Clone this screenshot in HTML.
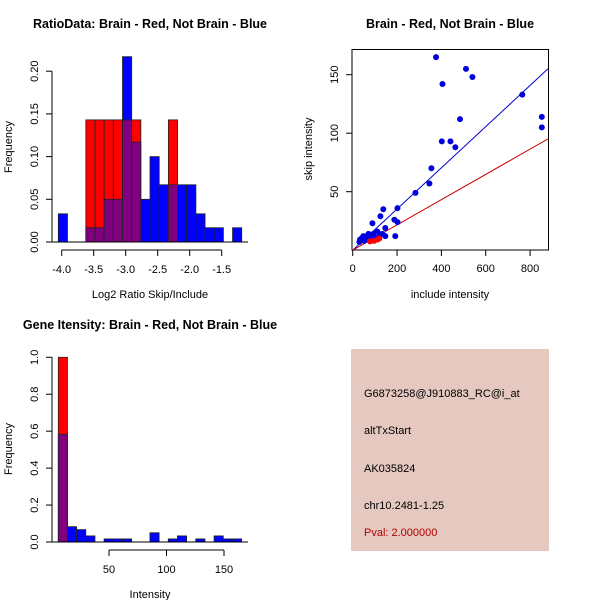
<!DOCTYPE html>
<html><head><meta charset="utf-8"><style>
body{margin:0;background:#fff}
svg{display:block;font-family:"Liberation Sans",sans-serif}
</style></head><body>
<svg id="c" width="600" height="600" viewBox="0 0 600 600" xmlns="http://www.w3.org/2000/svg">
<text x="150" y="28" text-anchor="middle" font-size="12.5" font-weight="bold">RatioData: Brain - Red, Not Brain - Blue</text>
<text x="450" y="28" text-anchor="middle" font-size="12.5" font-weight="bold">Brain - Red, Not Brain - Blue</text>
<text x="150" y="329" text-anchor="middle" font-size="12.5" font-weight="bold">Gene Itensity: Brain - Red, Not Brain - Blue</text>
<text x="150" y="298" text-anchor="middle" font-size="11">Log2 Ratio Skip/Include</text>
<text transform="translate(12,147) rotate(-90)" text-anchor="middle" font-size="11">Frequency</text>
<text x="450" y="298" text-anchor="middle" font-size="11">include intensity</text>
<text transform="translate(312,149) rotate(-90)" text-anchor="middle" font-size="11">skip intensity</text>
<text x="150" y="598" text-anchor="middle" font-size="11">Intensity</text>
<text transform="translate(12,449) rotate(-90)" text-anchor="middle" font-size="11">Frequency</text>
<g id="g1"></g><g id="g2"></g><g id="g3"></g>
<rect x="351" y="349" width="198" height="202" fill="#e5c8c0"/>
<g font-size="11">
<text x="364" y="397">G6873258@J910883_RC@i_at</text>
<text x="364" y="434">altTxStart</text>
<text x="364" y="472">AK035824</text>
<text x="364" y="509">chr10.2481-1.25</text>
<text x="364" y="536" fill="#b00000">Pval: 2.000000</text>
</g>
</svg>
<script>
// Plot 1 data
const ratioBinStart = -4.053, ratioBinWidth = 0.1433;
const ratioBlue = [0.033,0,0,0.0167,0.0167,0.05,0.05,0.217,0.117,0.05,0.1,0.067,0.067,0.067,0.067,0.033,0.0167,0.0167,0,0.0167];
const ratioRed  = [0,0,0,0.143,0.143,0.143,0.143,0.143,0.143,0,0,0,0.143,0,0,0,0,0,0,0];
const ratioXTicks = [-4.0,-3.5,-3.0,-2.5,-2.0,-1.5];
const ratioYTicks = [0,0.05,0.10,0.15,0.20];
// Plot 2 data
const incl = [376,511,540,405,765,853,853,484,402,441,463,355,346,283,202,138,125,89,188,202,192,147,147,134,111,93,71,48,30,56,78,101,123,33,40,62,85,66,45,52];
const skip = [165,155,148,142,133,114,105,112,93,93,88,70,57,49,36,35,29,23,26,24,12,19,12,14,16,14,14,12,7,10,10,11,13,9,10,9,12,12,11,8];
const inclRed = [120,111,96,78];
const skipRed = [10,9,8,7.5];
const blueSlope = [0.176], redSlope = [0.108];
const scXTicks = [0,200,400,600,800];
const scYTicks = [50,100,150];
// Plot 3 data
const intBinStart = 5.9, intBinWidth = 7.97;
const intBlue = [0.583,0.083,0.067,0.033,0,0.0167,0.0167,0.0167,0,0,0.05,0,0.0167,0.033,0,0.0167,0,0.033,0.0167,0.0167];
const intRed  = [1.0,0,0,0,0,0,0,0,0,0,0,0,0,0,0,0,0,0,0,0];
const intXTicks = [50,100,150];
const intYTicks = [0,0.2,0.4,0.6,0.8,1.0];

const NS="http://www.w3.org/2000/svg";
function mk(p,tag,attrs){const e=document.createElementNS(NS,tag);for(const k in attrs)e.setAttribute(k,attrs[k]);p.appendChild(e);return e;}
function fmt(v,d){return v.toFixed(d);}

function hist(g,binStart,bw,blue,red,xs,ys,xT,yT,xdec,ydec,axisY,axisX0,axisX1,prefix){
  blue.forEach((b,i)=>{
    const r=red[i];const x0=xs(binStart+i*bw),w=xs(binStart+(i+1)*bw)-x0;
    const hi=Math.max(b,r),lo=Math.min(b,r);
    if(hi>0){
      const e=mk(g,'rect',{x:x0,y:ys(hi),width:w,height:ys(0)-ys(hi),fill:r>b?'#ff0000':'#0000ff',stroke:'#222','stroke-width':0.8});
      
      
    }
    if(lo>0){
      const e=mk(g,'rect',{x:x0,y:ys(lo),width:w,height:ys(0)-ys(lo),fill:'#800080',stroke:'#222','stroke-width':0.8});
      
      
    }
  });
  // y axis
  const ya=mk(g,'line',{x1:52,x2:52,y1:ys(yT[0]),y2:ys(yT[yT.length-1]),stroke:'#000'});
  
  
  yT.forEach(v=>{
    mk(g,'line',{x1:46,x2:52,y1:ys(v),y2:ys(v),stroke:'#000'});
    const t=mk(g,'text',{transform:`translate(38,${ys(v)}) rotate(-90)`,'text-anchor':'middle','font-size':11});
    t.textContent=fmt(v,ydec);
    
    
  });
  const xa=mk(g,'line',{x1:xs(xT[0]),x2:xs(xT[xT.length-1]),y1:axisY,y2:axisY,stroke:'#000'});
  
  
  xT.forEach(v=>{
    mk(g,'line',{x1:xs(v),x2:xs(v),y1:axisY,y2:axisY+6,stroke:'#000'});
    const t=mk(g,'text',{x:xs(v),y:axisY+23,'text-anchor':'middle','font-size':11});
    t.textContent=fmt(v,xdec);
    
    
  });
  // baseline
  mk(g,'line',{x1:axisX0,x2:axisX1,y1:ys(0),y2:ys(0),stroke:'#000'});
}
// plot 1
{
 const xs=v=>61.7+(v+4)*64, ys=v=>242-v*854;
 hist(document.getElementById('g1'),ratioBinStart,ratioBinWidth,ratioBlue,ratioRed,xs,ys,ratioXTicks,ratioYTicks,1,2,250,52,248,'ratio');
}
// plot 3
{
 const xs=v=>109+(v-50)*1.15, ys=v=>542-v*184.7;
 hist(document.getElementById('g3'),intBinStart,intBinWidth,intBlue,intRed,xs,ys,intXTicks,intYTicks,0,1,550,52,248,'intensity');
}
// plot 2
{
 const g=document.getElementById('g2');
 const xs=v=>352.7+v*0.2217, ys=v=>250.2-v*1.17;
 const box=mk(g,'rect',{x:352,y:49.5,width:196.5,height:200.5,fill:'none',stroke:'#000'});
 
 
 const xmax=(548-352.7)/0.2217;
 const bl=mk(g,'line',{x1:xs(0),y1:ys(0),x2:xs(xmax),y2:ys(blueSlope[0]*xmax),stroke:'#0000cc'});
 
 
 const rl=mk(g,'line',{x1:xs(0),y1:ys(0),x2:xs(xmax),y2:ys(redSlope[0]*xmax),stroke:'#cc0000'});
 
 
 incl.forEach((x,i)=>{
   const c=mk(g,'circle',{cx:xs(x),cy:ys(skip[i]),r:3,fill:'#0000dd'});
   
   
 });
 inclRed.forEach((x,i)=>{
   const c=mk(g,'circle',{cx:xs(x),cy:ys(skipRed[i]),r:3,fill:'#ff0000'});
   
   
 });
 scXTicks.forEach(v=>{
   mk(g,'line',{x1:xs(v),x2:xs(v),y1:250,y2:256,stroke:'#000'});
   const t=mk(g,'text',{x:xs(v),y:272,'text-anchor':'middle','font-size':11});
   t.textContent=v;
   
   
 });
 scYTicks.forEach(v=>{
   mk(g,'line',{x1:346,x2:352,y1:ys(v),y2:ys(v),stroke:'#000'});
   const t=mk(g,'text',{transform:`translate(338,${ys(v)}) rotate(-90)`,'text-anchor':'middle','font-size':11});
   t.textContent=v;
   
   
 });
}
</script>
</body></html>
